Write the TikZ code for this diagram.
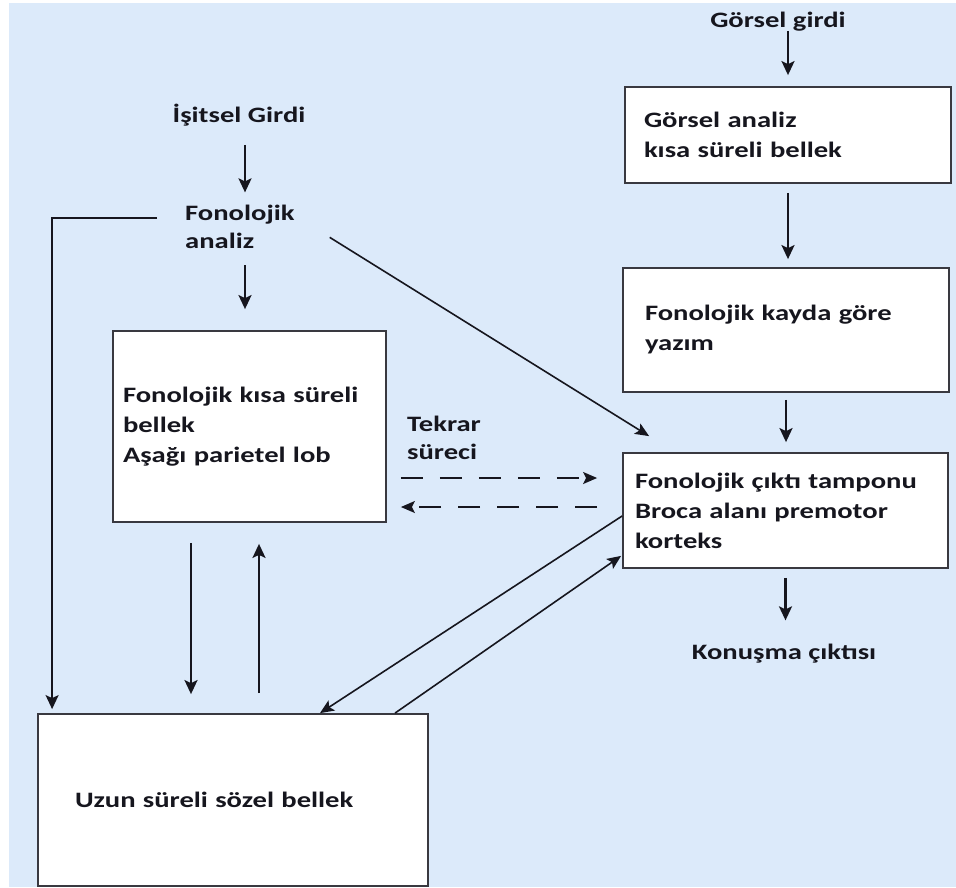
\documentclass[tikz,border=0pt]{standalone}
\usepackage{fontspec}
\setmainfont{Carlito}[FakeStretch=1.3]
\usetikzlibrary{arrows.meta}
\definecolor{bg}{RGB}{220,234,250}
\definecolor{ink}{RGB}{22,22,30}
\begin{document}
\begin{tikzpicture}[x=1pt,y=-1pt,
  font=\fontsize{22}{30}\selectfont\bfseries,
  box/.style={draw=ink!85, line width=1.8pt, fill=white, align=left, inner ysep=0pt, text=ink},
  lbl/.style={inner sep=0pt, text=ink},
  arr/.style={draw=ink, line width=2.2pt, -{Stealth[length=14pt,width=13pt,inset=3pt]}},
  darr/.style={draw=ink, line width=1.6pt, -{Stealth[length=14pt,width=12pt,inset=3pt]}},
  dsh/.style={draw=ink, line width=1.6pt, dash pattern=on 22pt off 17pt, -{Stealth[length=14pt,width=12pt,inset=3pt]}}
]
\fill[white] (0,0) rectangle (956,887);
\fill[bg] (9,3) rectangle (956,887);
\useasboundingbox (0,0) rectangle (956,887);

% right column
\node[lbl, anchor=base] (gg) at (778,27) {Görsel girdi};
\node[box, minimum width=326pt, minimum height=96pt, text width=288pt, inner xsep=19pt] (ga) at (788,135) {Görsel analiz\\kısa süreli bellek};
\node[box, minimum width=326pt, minimum height=124pt, text width=282pt, inner xsep=22pt] (gk) at (786,330) {Fonolojik kayda göre\\yazım};
\node[box, minimum width=325pt, minimum height=115pt, text width=301pt, inner xsep=12pt] (fc) at (785.5,510.5) {Fonolojik çıktı tamponu\\Broca alanı premotor\\korteks};
\node[lbl, anchor=base] (ko) at (784,659) {Konuşma çıktısı};

% left column
\node[lbl, anchor=base] (ig) at (239,122) {İşitsel Girdi};
\node[lbl, anchor=base west, align=left] (fa) at (185,248) {Fonolojik\\[-2pt]analiz};
\node[box, minimum width=273pt, minimum height=191pt, text width=253pt, inner xsep=10pt] (fk) at (249.5,426.5) {Fonolojik kısa süreli\\bellek\\Aşağı parietel lob};
\node[lbl, anchor=base west, align=left] (ts) at (407,459) {Tekrar\\[-2pt]süreci};
\node[box, minimum width=390pt, minimum height=172pt, text width=316pt, inner xsep=37pt] (uz) at (233,800) {Uzun süreli sözel bellek};

% connectors right column
\draw[arr, shorten >=11pt] (gg.south -| ga.north) -- (ga.north);
\draw[arr, shorten <=9pt, shorten >=8pt] (ga.south) -- (ga.south |- gk.north);
\draw[arr, shorten <=7pt, shorten >=10pt] (gk.south) -- (gk.south |- fc.north);
\draw[arr, shorten <=9pt, shorten >=23pt] (fc.south) -- (fc.south |- ko.north);

% connectors left column
\draw[arr, shorten <=19pt, shorten >=12pt] ([xshift=6pt]ig.south) -- ([xshift=6pt]ig.south |- fa.north);
\draw[arr, shorten <=17pt, shorten >=21pt] ([xshift=-4.5pt]fk.north |- fa.south) -- ([xshift=-4.5pt]fk.north);
\draw[arr, line width=1.8pt, shorten <=28pt, shorten >=4pt] ([yshift=8pt]fa.west) -| ([xshift=15pt]uz.north west);
\draw[darr] ([xshift=35pt,yshift=-11pt]fa.east) -- ([xshift=27pt,yshift=16pt]fc.north west);

% rehearsal loop
\draw[dsh, shorten <=14pt, shorten >=25pt] ([yshift=-51.5pt]fk.east) -- ([yshift=-51.5pt]fk.east -| fc.west);
\draw[dsh, shorten <=25pt, shorten >=14pt] ([yshift=-80.5pt]fk.east -| fc.west) -- ([yshift=-80.5pt]fk.east);

% short-term <-> long-term
\draw[arr, shorten <=20pt, shorten >=19pt] ([xshift=-58.5pt]fk.south) -- ([xshift=-58.5pt]fk.south |- uz.north);
\draw[arr, shorten <=20pt, shorten >=21pt] ([xshift=9.5pt]fk.south |- uz.north) -- ([xshift=9.5pt]fk.south);

% output buffer <-> long-term
\draw[darr] ([yshift=-5.5pt]fc.west) -- ([xshift=87pt]uz.north);
\draw[darr] ([xshift=162pt]uz.north) -- ([xshift=-1pt,yshift=13pt]fc.south west);
\end{tikzpicture}
\end{document}
